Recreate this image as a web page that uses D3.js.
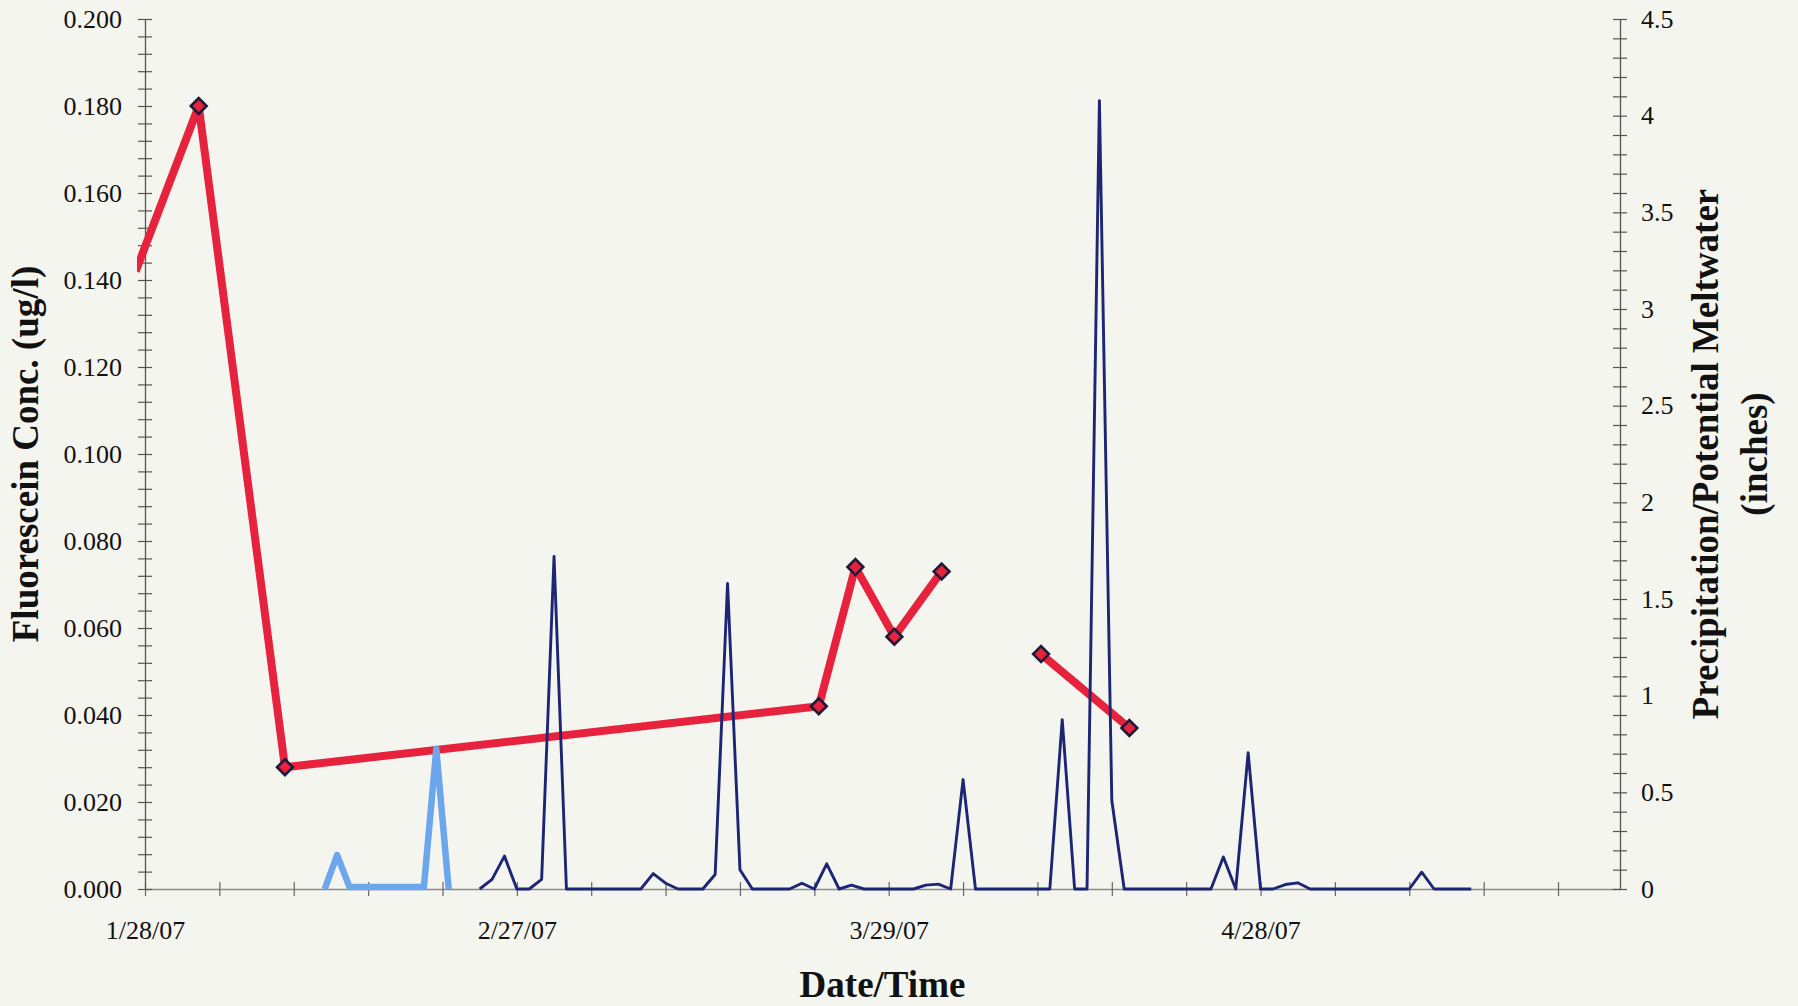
<!DOCTYPE html>
<html>
<head>
<meta charset="utf-8">
<script src="https://cdn.jsdelivr.net/npm/d3@7"></script>
<style>
  body { margin:0; background:#f5f5ef; }
  svg { display:block; }
  text { font-family:"Liberation Serif","Times New Roman",serif; fill:#111; }
</style>
</head>
<body>
<script>
// fluorescein samples (ug/l), null = gap in the line
var fluorTimes = ["2007-01-27T06:00","2007-02-01T08:00","2007-02-08T07:00","2007-03-23T08:40","2007-03-26T07:30","2007-03-29T11:00","2007-04-02T06:30",null,"2007-04-10T07:00","2007-04-17T10:00"];
var fluorValues = [0.142,0.180,0.028,0.042,0.074,0.058,0.073,null,0.054,0.037];

// potential meltwater, one value a day (inches)
var meltStart = "2007-02-11T12:00";
var meltValues = [0,0.175,0.01,0.01,0.01,0.01,0.01,0.01,0.01,0.725,0];

// precipitation, one value a day (inches)
var precipStart = "2007-02-24T00:00";
var precipValues = [
  0,0.05,0.17,0,0,0.05,1.72,0,0,0,
  0,0,0,0,0.08,0.03,0,0,0,0.075,
  1.58,0.10,0,0,0,0,0.03,0,0.13,0,
  0.02,0,0,0,0,0,0.02,0.025,0,0.566,
  0,0,0,0,0,0,0,0.876,0,0,
  4.077,0.458,0,0,0,0,0,0,0,0,
  0.166,0,0.705,0,0,0.023,0.032,0,0,0,
  0,0,0,0,0,0,0.087,0,0,0,
  0
];

// axes
var xStart = "2007-01-28", xEnd = "2007-05-27";
var xLabelDates = ["2007-01-28","2007-02-27","2007-03-29","2007-04-28"];
var concTicks = [0,0.02,0.04,0.06,0.08,0.10,0.12,0.14,0.16,0.18,0.20];
var rainTicks = [0,0.5,1,1.5,2,2.5,3,3.5,4,4.5];

window.onload = function(){
  var width = 1798, height = 1006;
  var left = 145, right = 1620, top = 19, bottom = 889;

  var parseTime = d3.utcParse("%Y-%m-%dT%H:%M");
  var parseDay = d3.utcParse("%Y-%m-%d");
  var fmtDay = d3.utcFormat("%-m/%d/%y");

  var x = d3.scaleUtc()
    .domain([parseDay(xStart), parseDay(xEnd)])
    .range([left, right]);
  var yConc = d3.scaleLinear().domain([0, 0.2]).range([bottom, top]);
  var yRain = d3.scaleLinear().domain([0, 4.5]).range([bottom, top]);

  var svg = d3.select("body").append("svg")
    .attr("width", width)
    .attr("height", height);

  svg.append("rect")
    .attr("width", width)
    .attr("height", height)
    .attr("fill", "#f5f5ef");

  svg.append("defs").append("clipPath")
    .attr("id", "plotclip")
    .append("rect")
    .attr("x", left - 8)
    .attr("y", 0)
    .attr("width", right - left + 8)
    .attr("height", height);

  // x axis, tick every 6 days, labels every 30
  var xTicks = d3.range(0, 115, 6).map(function(d){ return d3.utcDay.offset(x.domain()[0], d); });
  var labelSet = xLabelDates.map(function(d){ return +parseDay(d); });
  var gx = svg.append("g")
    .attr("transform", "translate(0," + bottom + ")")
    .call(d3.axisBottom(x)
      .tickValues(xTicks)
      .tickSize(7)
      .tickSizeOuter(0)
      .tickFormat(function(d){ return labelSet.indexOf(+d) >= 0 ? fmtDay(d) : ""; }));
  gx.select(".domain").attr("stroke", "#8a8a8a").attr("stroke-width", 1.3);
  gx.selectAll(".tick line").attr("y1", -7).attr("stroke", "#666").attr("stroke-width", 1.2);
  gx.selectAll(".tick text").attr("y", 50).attr("dy", null).style("font-size", "26px");

  // left axis
  var concMinor = d3.range(0, 51).map(function(i){ return i * 0.004; });
  var gl = svg.append("g")
    .attr("transform", "translate(" + left + ",0)")
    .call(d3.axisLeft(yConc)
      .tickValues(concMinor)
      .tickSize(7)
      .tickPadding(16)
      .tickSizeOuter(0)
      .tickFormat(function(d){
        var hit = concTicks.some(function(t){ return Math.abs(t - d) < 1e-9; });
        return hit ? d3.format(".3f")(d) : "";
      }));
  gl.select(".domain").attr("stroke", "#555").attr("stroke-width", 1.3);
  gl.selectAll(".tick line").attr("x1", 7).attr("stroke", "#555").attr("stroke-width", 1.2);
  gl.selectAll(".tick text").style("font-size", "26px");

  // right axis
  var rainMinor = d3.range(0, 46).map(function(i){ return i * 0.1; });
  var gr = svg.append("g")
    .attr("transform", "translate(" + right + ",0)")
    .call(d3.axisRight(yRain)
      .tickValues(rainMinor)
      .tickSize(7)
      .tickPadding(14)
      .tickSizeOuter(0)
      .tickFormat(function(d){
        var hit = rainTicks.some(function(t){ return Math.abs(t - d) < 1e-9; });
        return hit ? d3.format("")(+d.toFixed(1)) : "";
      }));
  gr.select(".domain").attr("stroke", "#555").attr("stroke-width", 1.3);
  gr.selectAll(".tick line").attr("x1", -7).attr("stroke", "#555").attr("stroke-width", 1.2);
  gr.selectAll(".tick text").style("font-size", "26px");

  // fluorescein line
  var fluor = fluorTimes.map(function(t, i){
    return {t: t ? parseTime(t) : null, v: fluorValues[i]};
  });
  var fluorLine = d3.line()
    .defined(function(d){ return d.v != null; })
    .x(function(d){ return x(d.t); })
    .y(function(d){ return yConc(d.v); });

  svg.append("path")
    .datum(fluor)
    .attr("d", fluorLine)
    .attr("fill", "none")
    .attr("stroke", "#e6223d")
    .attr("stroke-width", 8)
    .attr("stroke-linejoin", "round")
    .attr("clip-path", "url(#plotclip)");

  svg.append("g")
    .selectAll("path")
    .data(fluor.filter(function(d){ return d.v != null && d.t >= x.domain()[0]; }))
    .enter()
    .append("path")
    .attr("d", d3.symbol(d3.symbolSquare, 125))
    .attr("transform", function(d){ return "translate(" + x(d.t) + "," + yConc(d.v) + ") rotate(45)"; })
    .attr("fill", "#e6223d")
    .attr("stroke", "#1e1b3a")
    .attr("stroke-width", 2.6);

  // meltwater + precipitation on right axis
  var melt = meltValues.map(function(v, i){
    return {t: d3.utcDay.offset(parseTime(meltStart), i), v: v};
  });
  var precip = precipValues.map(function(v, i){
    return {t: d3.utcDay.offset(parseTime(precipStart), i), v: v};
  });
  var rainLine = d3.line()
    .x(function(d){ return x(d.t); })
    .y(function(d){ return yRain(d.v); });

  svg.append("path")
    .datum(melt)
    .attr("d", rainLine)
    .attr("fill", "none")
    .attr("stroke", "#6ca6ec")
    .attr("stroke-width", 6.5)
    .attr("stroke-linejoin", "round");

  svg.append("path")
    .datum(precip)
    .attr("d", rainLine)
    .attr("fill", "none")
    .attr("stroke", "#1c2675")
    .attr("stroke-width", 2.9)
    .attr("stroke-linejoin", "round");

  // titles
  svg.append("text")
    .attr("x", (left + right) / 2)
    .attr("y", 997)
    .attr("text-anchor", "middle")
    .style("font-size", "37px")
    .style("font-weight", "bold")
    .text("Date/Time");

  svg.append("text")
    .attr("transform", "translate(38," + (top + bottom) / 2 + ") rotate(-90)")
    .attr("text-anchor", "middle")
    .style("font-size", "37px")
    .style("font-weight", "bold")
    .text("Fluorescein Conc. (ug/l)");

  svg.append("text")
    .attr("transform", "translate(1718," + (top + bottom) / 2 + ") rotate(-90)")
    .attr("text-anchor", "middle")
    .style("font-size", "37px")
    .style("font-weight", "bold")
    .text("Precipitation/Potential Meltwater");

  svg.append("text")
    .attr("transform", "translate(1767," + (top + bottom) / 2 + ") rotate(-90)")
    .attr("text-anchor", "middle")
    .style("font-size", "37px")
    .style("font-weight", "bold")
    .text("(inches)");
}
</script>
</body>
</html>
